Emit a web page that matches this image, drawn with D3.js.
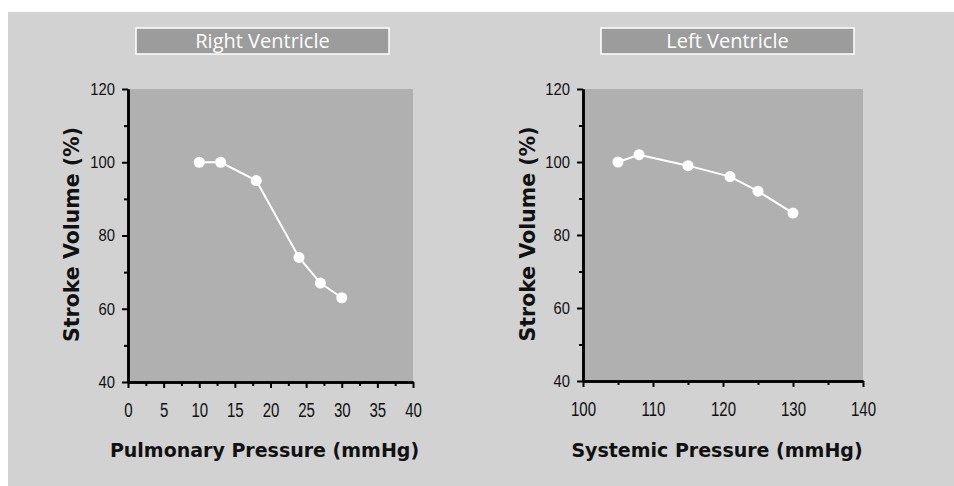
<!DOCTYPE html>
<html>
<head>
<meta charset="utf-8">
<script src="https://cdn.jsdelivr.net/npm/d3@7"></script>
<style>
  body { margin: 0; background: #fff; }
  .tick text { font-family: "Liberation Sans", Arial, sans-serif; fill: #111; }
  .axis-title { font-family: "DejaVu Sans", Verdana, sans-serif; font-weight: bold; fill: #111; }
  .panel-title { font-family: "Open Sans", "Noto Sans", sans-serif; fill: #fff; }
</style>
</head>
<body>
<div id="chart"></div>
<script>
// right ventricle
var rvPressure = [10, 13, 18, 24, 27, 30];
var rvStroke = [100, 100, 95, 74, 67, 63];
// left ventricle
var lvPressure = [105, 108, 115, 121, 125, 130];
var lvStroke = [100, 102, 99, 96, 92, 86];

var yTicks = [40, 60, 80, 100, 120];
var yMinor = [50, 70, 90, 110];
var rvXTicks = [0, 5, 10, 15, 20, 25, 30, 35, 40];
var rvXMinor = [2.5, 7.5, 12.5, 17.5, 22.5, 27.5, 32.5, 37.5];
var lvXTicks = [100, 110, 120, 130, 140];
var lvXMinor = [105, 115, 125, 135];

var W = 954, H = 486;

var svg = d3.select("#chart").append("svg")
    .attr("width", W)
    .attr("height", H);

svg.append("rect")
    .attr("x", 8).attr("y", 12)
    .attr("width", W - 8).attr("height", H - 12)
    .attr("fill", "#d1d2d1");

var panels = [
    {title: "Right Ventricle", xTitle: "Pulmonary Pressure (mmHg)", xs: rvPressure, ys: rvStroke,
     xDomain: [0, 40], xTicks: rvXTicks, xMinor: rvXMinor,
     left: 128, right: 413, top: 89, bottom: 382, box: [136, 28, 253, 26], yTitleX: 72},
    {title: "Left Ventricle", xTitle: "Systemic Pressure (mmHg)", xs: lvPressure, ys: lvStroke,
     xDomain: [100, 140], xTicks: lvXTicks, xMinor: lvXMinor,
     left: 583, right: 863, top: 89, bottom: 381, box: [601, 28, 253, 26], yTitleX: 528}
];

panels.forEach(drawPanel);

function drawPanel(p){
    var x = d3.scaleLinear().domain(p.xDomain).range([p.left, p.right]);
    var y = d3.scaleLinear().domain([40, 120]).range([p.bottom, p.top]);

    // title box
    svg.append("rect")
        .attr("x", p.box[0]).attr("y", p.box[1])
        .attr("width", p.box[2]).attr("height", p.box[3])
        .attr("fill", "#9b9c9b")
        .attr("stroke", "#fff")
        .attr("stroke-width", 1.5);
    svg.append("text")
        .attr("class", "panel-title")
        .attr("x", p.box[0] + p.box[2] / 2)
        .attr("y", p.box[1] + 19.5)
        .attr("text-anchor", "middle")
        .style("font-size", "20px")
        .text(p.title);

    // plot area
    svg.append("rect")
        .attr("x", p.left).attr("y", p.top)
        .attr("width", p.right - p.left).attr("height", p.bottom - p.top)
        .attr("fill", "#b0b0b0");

    // minor ticks
    svg.append("g")
        .attr("transform", "translate(" + p.left + ",0)")
        .call(d3.axisLeft(y).tickValues(yMinor).tickFormat("").tickSize(4).tickSizeOuter(0))
        .call(styleAxis);
    svg.append("g")
        .attr("transform", "translate(0," + p.bottom + ")")
        .call(d3.axisBottom(x).tickValues(p.xMinor).tickFormat("").tickSize(4).tickSizeOuter(0))
        .call(styleAxis);

    // major ticks, labels squeezed to look like a narrow face
    svg.append("g")
        .attr("transform", "translate(" + p.left + ",0)")
        .call(d3.axisLeft(y).tickValues(yTicks).tickSize(6).tickSizeOuter(0).tickPadding(4))
        .call(styleAxis)
        .selectAll(".tick text")
        .attr("x", -15)
        .attr("transform", "scale(0.87,1)")
        .style("font-size", "17px");
    svg.append("g")
        .attr("transform", "translate(0," + p.bottom + ")")
        .call(d3.axisBottom(x).tickValues(p.xTicks).tickSize(6).tickSizeOuter(0).tickPadding(15))
        .call(styleAxis)
        .selectAll(".tick text")
        .attr("transform", "scale(0.77,1)")
        .style("font-size", "19.5px");

    // line + points
    var pts = p.xs.map(function(d, i){ return [d, p.ys[i]]; });
    svg.append("path")
        .datum(pts)
        .attr("fill", "none")
        .attr("stroke", "#fff")
        .attr("stroke-width", 2)
        .attr("d", d3.line().x(function(d){ return x(d[0]); }).y(function(d){ return y(d[1]); }));
    svg.selectAll(null)
        .data(pts)
        .enter().append("circle")
        .attr("cx", function(d){ return x(d[0]); })
        .attr("cy", function(d){ return y(d[1]); })
        .attr("r", 5.5)
        .attr("fill", "#fff");

    // axis titles
    svg.append("text")
        .attr("class", "axis-title")
        .attr("transform", "translate(" + p.yTitleX + "," + ((p.top + p.bottom) / 2 - 1) + ") rotate(-90)")
        .attr("text-anchor", "middle")
        .attr("dy", "0.35em")
        .style("font-size", "20.5px")
        .text("Stroke Volume (%)");
    svg.append("text")
        .attr("class", "axis-title")
        .attr("x", (p.left + p.right) / 2 - 6)
        .attr("y", 457)
        .attr("text-anchor", "middle")
        .style("font-size", "19px")
        .text(p.xTitle);
}

function styleAxis(g){
    g.select(".domain").attr("stroke", "#000").attr("stroke-width", 2.5);
    g.selectAll(".tick line").attr("stroke", "#000").attr("stroke-width", 2);
}
</script>
</body>
</html>
